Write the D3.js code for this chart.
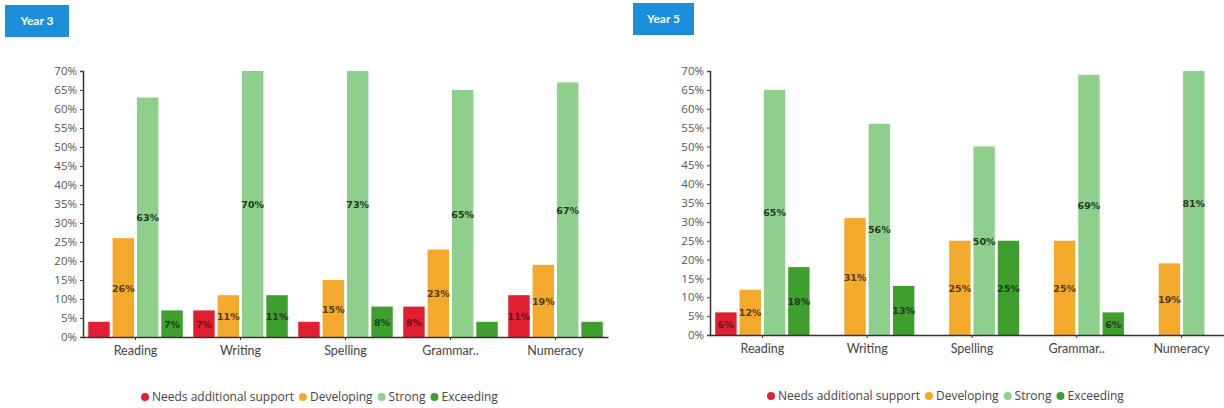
<!DOCTYPE html>
<html>
<head>
<meta charset="utf-8">
<script src="https://cdn.jsdelivr.net/npm/d3@7"></script>
<style>
  html, body { margin: 0; padding: 0; background: #fff; }
  svg { display: block; }
</style>
</head>
<body>
<svg id="chart" width="1224" height="408"></svg>
<script>
const categories = ["Reading", "Writing", "Spelling", "Grammar..", "Numeracy"];
const seriesNames = ["Needs additional support", "Developing", "Strong", "Exceeding"];
const seriesColors = ["#e02030", "#f2a92c", "#8fcf8c", "#3e9e2e"];
const labelColors = ["#6a1020", "#5a3a10", "#1e3a1e", "#1e3a1e"];
const yTicks = [0, 5, 10, 15, 20, 25, 30, 35, 40, 45, 50, 55, 60, 65, 70];

const year3Needs      = [4, 7, 4, 8, 11];
const year3Developing = [26, 11, 15, 23, 19];
const year3Strong     = [63, 70, 73, 65, 67];
const year3Exceeding  = [7, 11, 8, 4, 4];

const year5Needs      = [6, 0, 0, 0, 0];
const year5Developing = [12, 31, 25, 25, 19];
const year5Strong     = [65, 56, 50, 69, 81];
const year5Exceeding  = [18, 13, 25, 6, 0];

const panels = [
  { title: "Year 3", series: [year3Needs, year3Developing, year3Strong, year3Exceeding],
    badge: [5, 5, 64, 32], x0: 83, x1: 608, yTop: 71, yBot: 337, legendX: 145, legendY: 397 },
  { title: "Year 5", series: [year5Needs, year5Developing, year5Strong, year5Exceeding],
    badge: [633, 3, 61, 32], x0: 710, x1: 1234, yTop: 71, yBot: 335, legendX: 771, legendY: 396 }
];

const svg = d3.select("#chart");
const fontFam = "Lato, 'Open Sans', sans-serif";
const legendFont = "'Open Sans', Lato, sans-serif";

panels.forEach(p => {
  const g = svg.append("g");
  // badge
  g.append("rect").attr("x", p.badge[0]).attr("y", p.badge[1])
    .attr("width", p.badge[2]).attr("height", p.badge[3]).attr("fill", "#1c8fdc");
  g.append("text").attr("x", p.badge[0] + p.badge[2] / 2).attr("y", p.badge[1] + p.badge[3] / 2 + 4)
    .attr("text-anchor", "middle").attr("fill", "#fff").attr("font-family", fontFam)
    .attr("font-weight", "bold").attr("font-size", 12).text(p.title);

  const x = d3.scaleBand().domain(categories).range([p.x0, p.x1]).paddingInner(0.1).paddingOuter(0.05);
  const xs = d3.scaleBand().domain(d3.range(4)).range([0, x.bandwidth()]).paddingInner(0.12);
  const y = d3.scaleLinear().domain([0, 70]).range([p.yBot, p.yTop]);

  const data = [];
  categories.forEach((c, ci) => {
    p.series.forEach((s, si) => {
      data.push({ c, si, v: s[ci] });
    });
  });

  const bars = g.append("g");
  const nz = data.filter(d => d.v > 0);
  bars.selectAll("rect").data(nz).join("rect")
    .attr("x", d => x(d.c) + xs(d.si))
    .attr("width", xs.bandwidth())
    .attr("y", d => y(Math.min(d.v, 70)))
    .attr("height", d => p.yBot - y(Math.min(d.v, 70)))
    .attr("fill", d => seriesColors[d.si]);

  bars.selectAll("text").data(nz.filter(d => d.v >= 5)).join("text")
    .attr("x", d => x(d.c) + xs(d.si) + xs.bandwidth() / 2)
    .attr("y", d => (p.yBot + y(Math.min(d.v, 70))) / 2 + 4)
    .attr("text-anchor", "middle")
    .attr("font-family", "'DejaVu Sans', sans-serif").attr("font-weight", "bold")
    .attr("font-size", 9.5).attr("fill", d => labelColors[d.si])
    .text(d => d.v + "%");

  // y axis
  const ya = g.append("g").attr("transform", `translate(${p.x0},0)`)
    .call(d3.axisLeft(y).tickValues(yTicks).tickFormat(d => d + "%").tickSize(3).tickPadding(3));
  ya.select(".domain").attr("stroke", "#333").attr("stroke-width", 1.5);
  ya.selectAll(".tick line").attr("stroke", "#444");
  ya.selectAll("text").attr("font-family", legendFont).attr("font-size", 11.5).attr("fill", "#555");

  // x axis
  const xa = g.append("g").attr("transform", `translate(0,${p.yBot})`)
    .call(d3.axisBottom(x).tickSize(3).tickPadding(6).tickSizeOuter(0));
  xa.select(".domain").attr("stroke", "#333").attr("stroke-width", 1.5);
  xa.selectAll(".tick line").attr("stroke", "#333");
  xa.selectAll("text").attr("font-family", fontFam).attr("font-size", 12.5).attr("fill", "#444");

  // legend
  const lg = g.append("g").attr("transform", `translate(${p.legendX},${p.legendY})`);
  let cx = 0;
  seriesNames.forEach((n, i) => {
    lg.append("circle").attr("cx", cx).attr("cy", 0).attr("r", 4).attr("fill", seriesColors[i]);
    const t = lg.append("text").attr("x", cx + 7).attr("y", 4)
      .attr("font-family", legendFont).attr("font-size", 12).attr("fill", "#444").text(n);
    cx += 7 + t.node().getComputedTextLength() + 9;
  });
});
</script>
</body>
</html>
